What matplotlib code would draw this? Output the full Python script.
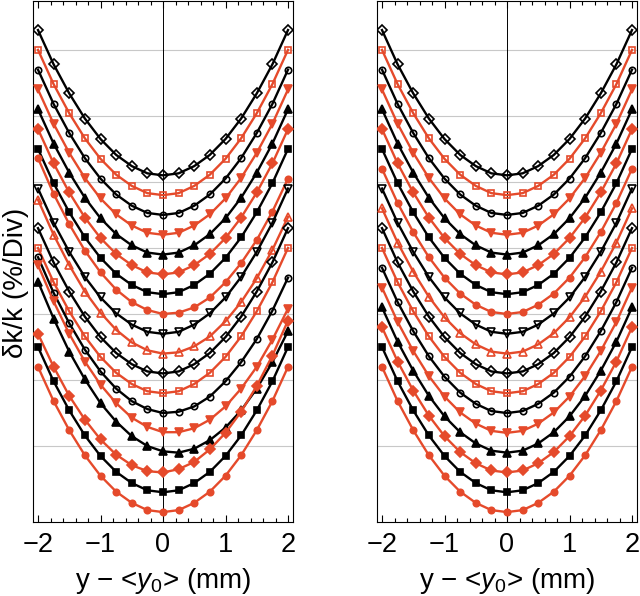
import matplotlib
matplotlib.use("Agg")
import matplotlib.pyplot as plt
from matplotlib.ticker import MultipleLocator

plt.rcParams["font.family"] = ["Liberation Sans", "DejaVu Sans"]
plt.rcParams["mathtext.fontset"] = "custom"
plt.rcParams["mathtext.rm"] = "Liberation Sans"
plt.rcParams["mathtext.it"] = "Liberation Sans:italic"

# offsets from the beam centre (mm)
x_pos = [-2.0, -1.75, -1.5, -1.25, -1.0, -0.75, -0.5, -0.25, 0.0,
         0.25, 0.5, 0.75, 1.0, 1.25, 1.5, 1.75, 2.0]

# dk/k per curve, top curve first (left panel)
left_curves = [
    [7.30, 6.78, 6.34, 5.96, 5.65, 5.41, 5.24, 5.13, 5.10, 5.13, 5.24, 5.41, 5.65, 5.96, 6.34, 6.78, 7.30],
    [7.00, 6.48, 6.04, 5.66, 5.35, 5.11, 4.94, 4.83, 4.80, 4.83, 4.94, 5.11, 5.35, 5.66, 6.04, 6.48, 7.00],
    [6.70, 6.18, 5.74, 5.36, 5.05, 4.81, 4.64, 4.53, 4.50, 4.53, 4.64, 4.81, 5.05, 5.36, 5.74, 6.18, 6.70],
    [6.40, 5.88, 5.44, 5.06, 4.75, 4.51, 4.34, 4.23, 4.20, 4.23, 4.34, 4.51, 4.75, 5.06, 5.44, 5.88, 6.40],
    [6.10, 5.58, 5.14, 4.76, 4.45, 4.21, 4.04, 3.93, 3.90, 3.93, 4.04, 4.21, 4.45, 4.76, 5.14, 5.58, 6.10],
    [5.80, 5.28, 4.84, 4.46, 4.15, 3.91, 3.74, 3.63, 3.60, 3.63, 3.74, 3.91, 4.15, 4.46, 4.84, 5.28, 5.80],
    [5.50, 4.98, 4.54, 4.16, 3.85, 3.61, 3.44, 3.33, 3.30, 3.33, 3.44, 3.61, 3.85, 4.16, 4.54, 4.98, 5.50],
    [5.36, 4.82, 4.36, 3.96, 3.63, 3.37, 3.18, 3.06, 3.00, 3.02, 3.10, 3.25, 3.48, 3.77, 4.12, 4.55, 5.05],
    [4.90, 4.38, 3.94, 3.56, 3.25, 3.01, 2.84, 2.73, 2.70, 2.73, 2.84, 3.01, 3.25, 3.56, 3.94, 4.38, 4.90],
    [4.73, 4.20, 3.74, 3.34, 3.02, 2.76, 2.57, 2.45, 2.40, 2.42, 2.51, 2.66, 2.89, 3.18, 3.54, 3.97, 4.47],
    [4.30, 3.78, 3.34, 2.96, 2.65, 2.41, 2.24, 2.13, 2.10, 2.13, 2.24, 2.41, 2.65, 2.96, 3.34, 3.78, 4.30],
    [4.00, 3.48, 3.04, 2.66, 2.35, 2.11, 1.94, 1.83, 1.80, 1.83, 1.94, 2.11, 2.35, 2.66, 3.04, 3.48, 4.00],
    [3.86, 3.32, 2.86, 2.46, 2.13, 1.87, 1.68, 1.56, 1.50, 1.52, 1.60, 1.75, 1.98, 2.27, 2.62, 3.05, 3.55],
    [3.74, 3.19, 2.70, 2.28, 1.93, 1.65, 1.43, 1.29, 1.21, 1.21, 1.27, 1.40, 1.60, 1.87, 2.20, 2.61, 3.08],
    [3.49, 2.93, 2.43, 2.01, 1.65, 1.37, 1.15, 1.00, 0.92, 0.90, 0.96, 1.09, 1.28, 1.54, 1.87, 2.27, 2.74],
    [2.70, 2.20, 1.76, 1.40, 1.10, 0.87, 0.71, 0.62, 0.60, 0.65, 0.76, 0.95, 1.20, 1.52, 1.91, 2.37, 2.90],
    [2.50, 1.98, 1.54, 1.16, 0.85, 0.61, 0.44, 0.33, 0.30, 0.33, 0.44, 0.61, 0.85, 1.16, 1.54, 1.98, 2.50],
    [2.20, 1.68, 1.24, 0.86, 0.55, 0.31, 0.14, 0.03, 0.00, 0.03, 0.14, 0.31, 0.55, 0.86, 1.24, 1.68, 2.20],
]

# right panel
right_curves = [
    [7.30, 6.78, 6.34, 5.96, 5.65, 5.41, 5.24, 5.13, 5.10, 5.13, 5.24, 5.41, 5.65, 5.96, 6.34, 6.78, 7.30],
    [7.00, 6.48, 6.04, 5.66, 5.35, 5.11, 4.94, 4.83, 4.80, 4.83, 4.94, 5.11, 5.35, 5.66, 6.04, 6.48, 7.00],
    [6.70, 6.18, 5.74, 5.36, 5.05, 4.81, 4.64, 4.53, 4.50, 4.53, 4.64, 4.81, 5.05, 5.36, 5.74, 6.18, 6.70],
    [6.40, 5.88, 5.44, 5.06, 4.75, 4.51, 4.34, 4.23, 4.20, 4.23, 4.34, 4.51, 4.75, 5.06, 5.44, 5.88, 6.40],
    [6.10, 5.58, 5.14, 4.76, 4.45, 4.21, 4.04, 3.93, 3.90, 3.93, 4.04, 4.21, 4.45, 4.76, 5.14, 5.58, 6.10],
    [5.80, 5.28, 4.84, 4.46, 4.15, 3.91, 3.74, 3.63, 3.60, 3.63, 3.74, 3.91, 4.15, 4.46, 4.84, 5.28, 5.80],
    [5.50, 4.98, 4.54, 4.16, 3.85, 3.61, 3.44, 3.33, 3.30, 3.33, 3.44, 3.61, 3.85, 4.16, 4.54, 4.98, 5.50],
    [5.20, 4.68, 4.24, 3.86, 3.55, 3.31, 3.14, 3.03, 3.00, 3.03, 3.14, 3.31, 3.55, 3.86, 4.24, 4.68, 5.20],
    [4.90, 4.38, 3.94, 3.56, 3.25, 3.01, 2.84, 2.73, 2.70, 2.73, 2.84, 3.01, 3.25, 3.56, 3.94, 4.38, 4.90],
    [4.60, 4.08, 3.64, 3.26, 2.95, 2.71, 2.54, 2.43, 2.40, 2.43, 2.54, 2.71, 2.95, 3.26, 3.64, 4.08, 4.60],
    [4.30, 3.78, 3.34, 2.96, 2.65, 2.41, 2.24, 2.13, 2.10, 2.13, 2.24, 2.41, 2.65, 2.96, 3.34, 3.78, 4.30],
    [4.00, 3.48, 3.04, 2.66, 2.35, 2.11, 1.94, 1.83, 1.80, 1.83, 1.94, 2.11, 2.35, 2.66, 3.04, 3.48, 4.00],
    [3.70, 3.18, 2.74, 2.36, 2.05, 1.81, 1.64, 1.53, 1.50, 1.53, 1.64, 1.81, 2.05, 2.36, 2.74, 3.18, 3.70],
    [3.40, 2.88, 2.44, 2.06, 1.75, 1.51, 1.34, 1.23, 1.20, 1.23, 1.34, 1.51, 1.75, 2.06, 2.44, 2.88, 3.40],
    [3.10, 2.58, 2.14, 1.76, 1.45, 1.21, 1.04, 0.93, 0.90, 0.93, 1.04, 1.21, 1.45, 1.76, 2.14, 2.58, 3.10],
    [2.80, 2.28, 1.84, 1.46, 1.15, 0.91, 0.74, 0.63, 0.60, 0.63, 0.74, 0.91, 1.15, 1.46, 1.84, 2.28, 2.80],
    [2.50, 1.98, 1.54, 1.16, 0.85, 0.61, 0.44, 0.33, 0.30, 0.33, 0.44, 0.61, 0.85, 1.16, 1.54, 1.98, 2.50],
    [2.20, 1.68, 1.24, 0.86, 0.55, 0.31, 0.14, 0.03, 0.00, 0.03, 0.14, 0.31, 0.55, 0.86, 1.24, 1.68, 2.20],
]

# marker style per curve (same order in both panels)
RED = "#e54a2b"
markers = ["D", "s", "o", "v", "^", "D", "s", "o", "v", "^",
           "D", "s", "o", "v", "^", "D", "s", "o"]
colours = ["k", RED, "k", RED, "k", RED, "k", RED, "k", RED,
           "k", RED, "k", RED, "k", RED, "k", RED]
filled = [False, False, False, True, True, True, True, True, False, False,
          False, False, False, True, True, True, True, True]
msizes = {"D": 4.6, "s": 4.8, "o": 4.6, "v": 5.6, "^": 5.6}


def draw_panel(ax, curves):
    for yv in range(1, 8):
        ax.axhline(yv, color="#c8c8c8", lw=0.8, zorder=0)
    ax.axvline(0, color="k", lw=0.7, zorder=1)
    for ys, m, c, f in zip(curves, markers, colours, filled):
        ax.plot(x_pos, ys, color=c, lw=1.7, marker=m, ms=msizes[m],
                mfc=c if f else "none", mec=c, mew=1.2, zorder=3)
    ax.set_xlim(-2.08, 2.08)
    ax.set_ylim(-0.15, 7.74)
    ax.set_yticks([])
    ax.xaxis.set_major_locator(MultipleLocator(1))
    ax.xaxis.set_minor_locator(MultipleLocator(0.2))
    ax.tick_params(axis="x", which="both", direction="in", top=True,
                   labelsize=19.5, pad=7)
    ax.tick_params(axis="x", which="major", length=5, width=0.8)
    ax.tick_params(axis="x", which="minor", length=3, width=0.8)
    for s in ax.spines.values():
        s.set_linewidth(0.8)
    ax.set_xlabel(r"y − <$y_0$> (mm)", fontsize=20, labelpad=6)


fig = plt.figure(figsize=(6.4, 5.96), dpi=100)
ax1 = fig.add_axes([33 / 640, 74 / 596, 260 / 640, 521 / 596])
ax2 = fig.add_axes([377 / 640, 74 / 596, 260 / 640, 521 / 596])
draw_panel(ax1, left_curves)
draw_panel(ax2, right_curves)

fig.text(16 / 640, 1 - 283 / 596, "δk/k (%/Div)", rotation=90,
         ha="center", va="center", fontsize=20)

fig.savefig("out.png", dpi=100)
